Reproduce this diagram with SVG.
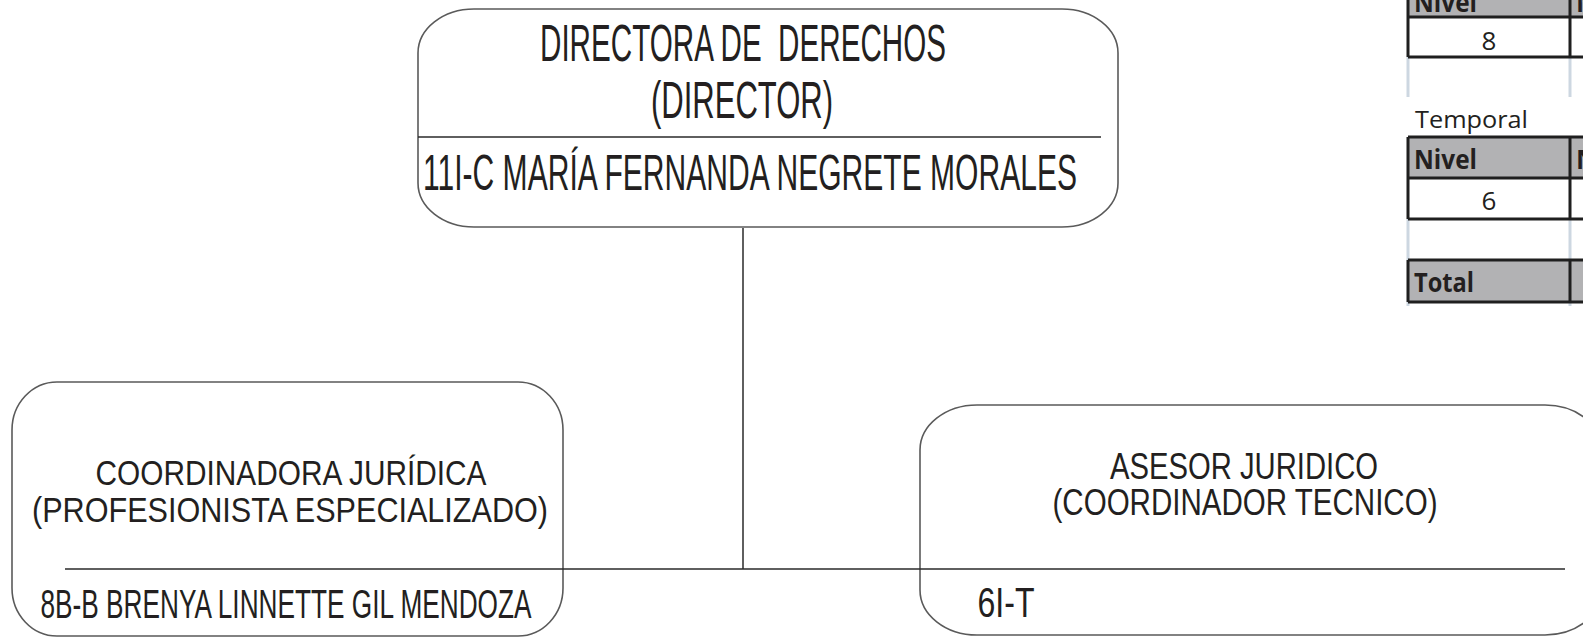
<svg xmlns="http://www.w3.org/2000/svg" width="1583" height="637" viewBox="0 0 1583 637">
<style>
.box{fill:#fff;stroke:#5a5a5a;stroke-width:1.6}
.ln{stroke:#2a2a2a;stroke-width:1.5;fill:none}
.t{font-family:"Liberation Sans",Arial,sans-serif;fill:#231f20;text-anchor:middle;white-space:pre}
.tb{font-family:"Open Sans","Noto Sans",sans-serif;fill:#231f20}
.bd{stroke:#1f1f1f;stroke-width:3;fill:none}
.gl{stroke:#cdd7e1;stroke-width:3;fill:none}
.hd{fill:#b2b2b4}
</style>
<rect width="1583" height="637" fill="#fff"/>
<g id="node-director">
<rect class="box" x="418" y="9" width="700" height="218" rx="56" ry="44"/>
<line class="ln" x1="418" y1="137" x2="1101" y2="137"/>
<text class="t" x="743" y="61" font-size="52" textLength="406" lengthAdjust="spacingAndGlyphs">DIRECTORA DE  DERECHOS</text>
<text class="t" x="742" y="118" font-size="52" textLength="182" lengthAdjust="spacingAndGlyphs">(DIRECTOR)</text>
<text class="t" x="750" y="190" font-size="50" textLength="654" lengthAdjust="spacingAndGlyphs">11I-C MARÍA FERNANDA NEGRETE MORALES</text>
</g>
<g id="node-coordinadora">
<rect class="box" x="12" y="382" width="551" height="254" rx="45" ry="48"/>
<text class="t" x="291" y="485" font-size="35" textLength="391" lengthAdjust="spacingAndGlyphs">COORDINADORA JURÍDICA</text>
<text class="t" x="290" y="522" font-size="35" textLength="516" lengthAdjust="spacingAndGlyphs">(PROFESIONISTA ESPECIALIZADO)</text>
<text class="t" x="286" y="618" font-size="40" textLength="491" lengthAdjust="spacingAndGlyphs">8B-B BRENYA LINNETTE GIL MENDOZA</text>
</g>
<g id="node-asesor">
<rect class="box" x="920" y="405" width="682" height="230" rx="57" ry="45"/>
<text class="t" x="1244" y="479" font-size="36" textLength="268" lengthAdjust="spacingAndGlyphs">ASESOR JURIDICO</text>
<text class="t" x="1245" y="515" font-size="36" textLength="385" lengthAdjust="spacingAndGlyphs">(COORDINADOR TECNICO)</text>
<text class="t" x="1006" y="617" font-size="42" textLength="57" lengthAdjust="spacingAndGlyphs">6I-T</text>
</g>
<g id="connectors">
<line class="ln" x1="743" y1="228" x2="743" y2="569"/>
<line class="ln" x1="65" y1="569" x2="1565" y2="569"/>
</g>
<g id="table">
<rect class="hd" x="1408" y="-10" width="200" height="27"/>
<rect class="hd" x="1408" y="137" width="200" height="41"/>
<rect class="hd" x="1408" y="260" width="200" height="42"/>
<line class="gl" x1="1408" y1="57" x2="1408" y2="97"/>
<line class="gl" x1="1570" y1="57" x2="1570" y2="97"/>
<line class="gl" x1="1408" y1="219" x2="1408" y2="260"/>
<line class="gl" x1="1570" y1="219" x2="1570" y2="260"/>
<line class="gl" x1="1408" y1="302" x2="1408" y2="306"/>
<line class="gl" x1="1570" y1="302" x2="1570" y2="306"/>
<path class="bd" d="M1408 -5V57M1570 -5V57M1408 17H1600M1408 57H1600"/>
<path class="bd" d="M1408 137V219M1570 137V219M1408 137H1600M1408 178H1600M1408 219H1600"/>
<path class="bd" d="M1408 260V302M1570 260V302M1408 260H1600M1408 302H1600"/>
<text class="tb" x="1414" y="12" font-size="26" font-weight="bold" textLength="63" lengthAdjust="spacingAndGlyphs">Nivel</text>
<text class="tb" x="1576" y="12" font-size="26" font-weight="bold">N</text>
<text class="tb" x="1489" y="50" font-size="26" text-anchor="middle">8</text>
<text class="tb" x="1415" y="128" font-size="24" textLength="113" lengthAdjust="spacingAndGlyphs">Temporal</text>
<text class="tb" x="1414" y="169" font-size="26" font-weight="bold" textLength="63" lengthAdjust="spacingAndGlyphs">Nivel</text>
<text class="tb" x="1576" y="169" font-size="26" font-weight="bold">N</text>
<text class="tb" x="1489" y="210" font-size="26" text-anchor="middle">6</text>
<text class="tb" x="1414" y="292" font-size="26" font-weight="bold" textLength="60" lengthAdjust="spacingAndGlyphs">Total</text>
</g>
</svg>
